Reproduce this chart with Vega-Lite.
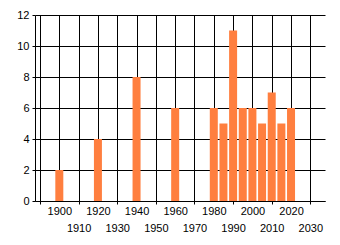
{
  "$schema": "https://vega.github.io/schema/vega-lite/v6.json",
  "width": 290,
  "height": 186,
  "autosize": "none",
  "padding": {"left": 35, "top": 15, "right": 15, "bottom": 44},
  "background": "#ffffff",
  "config": {
    "view": {"stroke": null},
    "axis": {
      "labelFont": "Liberation Sans",
      "labelFontSize": 11,
      "labelColor": "#000000",
      "gridColor": "#000000",
      "gridOpacity": 1,
      "gridWidth": 1,
      "domainColor": "#000000",
      "tickColor": "#000000",
      "title": null
    }
  },
  "data": {
    "values": [
      {"year": 1900, "value": 2},
      {"year": 1920, "value": 4},
      {"year": 1940, "value": 8},
      {"year": 1960, "value": 6},
      {"year": 1980, "value": 6},
      {"year": 1985, "value": 5},
      {"year": 1990, "value": 11},
      {"year": 1995, "value": 6},
      {"year": 2000, "value": 6},
      {"year": 2005, "value": 5},
      {"year": 2010, "value": 7},
      {"year": 2015, "value": 5},
      {"year": 2020, "value": 6}
    ]
  },
  "mark": {"type": "bar", "size": 8, "color": "#FF7F3F"},
  "encoding": {
    "x": {
      "field": "year",
      "type": "quantitative",
      "scale": {"domain": [1890, 2035], "nice": false, "zero": false},
      "axis": {
        "values": [1890, 1900, 1910, 1920, 1930, 1940, 1950, 1960, 1970, 1980, 1990, 2000, 2010, 2020, 2030],
        "format": "d",
        "labelExpr": "datum.value < 1900 ? '' : datum.label",
        "grid": true,
        "tickSize": 3,
        "tickOpacity": {"condition": {"test": "datum.value % 20 == 0", "value": 0}, "value": 1},
        "labelPadding": {"condition": {"test": "datum.value % 20 == 10", "value": 18}, "value": 1},
        "labelFlush": false,
        "labelOverlap": false,
        "labelBaseline": "top"
      }
    },
    "y": {
      "field": "value",
      "type": "quantitative",
      "scale": {"domain": [0, 12], "nice": false},
      "axis": {
        "values": [0, 2, 4, 6, 8, 10, 12],
        "grid": true,
        "tickSize": 3,
        "labelPadding": 3
      }
    }
  }
}
